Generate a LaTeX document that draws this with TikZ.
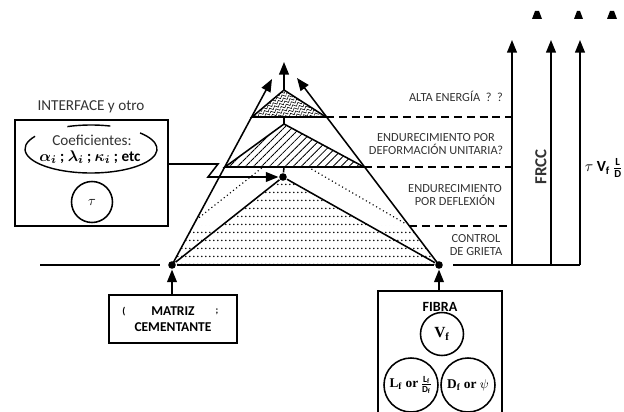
\documentclass[tikz,border=0pt]{standalone}
\usepackage{fontspec}
\setmainfont{Carlito}
\newfontfamily\serifbf{Liberation Serif}
\usepackage{tikz}
\usetikzlibrary{arrows.meta,patterns.meta}
\definecolor{RKText}{HTML}{333333}

\tikzdeclarepattern{name=dotrows,type=uncolored,
  bounding box={(0,0) and (3pt,5.7pt)},tile size={(3pt,5.7pt)},
  code={\fill (1.5pt,2.85pt) circle (0.7pt);}}
\tikzdeclarepattern{name=hatchne,type=uncolored,
  bounding box={(0,-0.5pt) and (4pt,0.5pt)},tile size={(4pt,4pt)},
  tile transformation={rotate=45},
  code={\draw[line width=0.6pt] (0,0) -- (4pt,0);}}
\tikzdeclarepattern{name=wavy,type=uncolored,
  bounding box={(0,-0.5pt) and (4pt,2.5pt)},tile size={(4pt,2.4pt)},
  tile transformation={rotate=25},
  code={\draw[line width=0.4pt] (0,1pt) -- (1pt,2pt) -- (3pt,0pt) -- (4pt,1pt);}}

\begin{document}
\begin{tikzpicture}[x=0.025cm,y=-0.025cm,line width=1.1pt,
  tip/.style={-{Triangle[length=9pt,width=7pt]}},
  dot/.style={circle,fill,inner sep=0pt,minimum size=0.19cm},
  box/.style={draw,rectangle,inner sep=0pt},
  ring/.style={circle,draw,inner sep=0pt},
  dashline/.style={dash pattern=on 5.7pt off 3.4pt},
  lbl/.style={align=center,text=RKText,font=\fontsize{8.8}{9.8}\selectfont}]
\path[use as bounding box] (0,0) rectangle (624,412);

% filled regions of the triangle
\fill[pattern=dotrows] (172,265) -- (193,226) -- (221,226) -- (283,177) -- (370,226) -- (409,226) -- (439,265) -- cycle;
\draw[pattern=hatchne] (225,167) -- (284,124) -- (364,167) -- cycle;
\draw[pattern=wavy] (252,117) -- (284,90) -- (326,117) -- cycle;
\draw[dotted,line width=0.8pt] (196,220) -- (263,167);
\draw[dotted,line width=0.8pt] (308,167) -- (406,224);

\node[dot] (mdot) at (172,265) {};
\node[dot] (fdot) at (439,265) {};
\node[dot] (idot) at (283,177) {};
\coordinate (ltip) at (272,79);
\coordinate (rtip) at (297,78);
\coordinate (capex) at (284,90);
\coordinate (ctip) at (284,62);

\draw[tip] (mdot.center) -- (ltip);
\draw[tip] (fdot.center) -- (rtip);
\draw[tip] (capex) -- (ctip);
\draw (mdot) -- (idot) -- (fdot);
\draw (idot) -- (284,167);
\draw (284,124) -- (284,117);

% base line and the three rising arrows
\draw (40,265) -- (160,265);
\draw (mdot) -- (fdot);
\draw (453,265) -- (580,265);
\foreach \x in {512,551,580}
  \draw[tip] (\x,265) -- (\x,40);
\fill (532,19) -- (535,11) -- (539,11) -- (542,19) -- cycle;
\fill (574,19) -- (577,11) -- (580,11) -- (583,19) -- cycle;
\fill (607,19) -- (610,11) -- (614,11) -- (617,19) -- cycle;

\draw[dashline] (326,117) -- (512,117);
\draw[dashline] (364,167) -- (512,167);
\draw[dashline] (409,226) -- (512,226);

\node[lbl] (alta) at (456,96) {ALTA ENERGÍA \ ? \ ?};
\node[lbl] (endef) at (436,144) {ENDURECIMIENTO POR\\DEFORMACIÓN UNITARIA?};
\node[lbl] (endfl) at (455,195) {ENDURECIMIENTO\\POR DEFLEXIÓN};
\node[lbl] (ctrl) at (476,245) {CONTROL\\DE GRIETA};
\node[rotate=90,text=RKText,font=\bfseries\fontsize{12}{14}\selectfont] (frcc) at (541,167) {FRCC};
\node[anchor=west,inner sep=0pt,font=\fontsize{11}{13}\selectfont] (tvl) at (584,168) {$\tau\ \mathbf{V_f}\,\frac{\mathbf{L}}{\mathbf{D}}$};

% interface
\node[text=RKText,font=\fontsize{10.8}{12}\selectfont] (ititle) at (91,107) {INTERFACE y otro};
\node[box,minimum width=3.825cm,minimum height=2.65cm] (ibox) at (91.5,173) {};
\draw[line width=1pt] (91,149) ++(-148:66 and 24) arc[start angle=-148,end angle=-402,x radius=66,y radius=24];
\draw[line width=1pt] (91,149) ++(-73:66 and 24) arc[start angle=-73,end angle=-111,x radius=66,y radius=24];
\node[text=RKText,font=\fontsize{10.8}{12}\selectfont] (coef) at (92,140) {Coeficientes:};
\node[font=\bfseries\boldmath\fontsize{10.8}{12}\selectfont] (greek) at (90,157) {$\alpha_i$ ; $\lambda_i$ ; $\kappa_i$ ; etc};
\node[ring,minimum size=1.025cm] (tau) at (92,202) {$\tau$};
\draw[tip] (ibox.east |- 0,164) -- (218,164) -- (208,177) -- (idot);

% matrix
\node[box,align=center,minimum width=3.2cm,minimum height=1.2cm,font=\bfseries\fontsize{9.6}{11.4}\selectfont] (mbox) at (173,319) {MATRIZ\\CEMENTANTE};
\node[font=\bfseries\fontsize{7}{8}\selectfont] (mpar) at (124,312) {(};
\node[font=\bfseries\fontsize{7}{8}\selectfont] (msemi) at (217,312) {;};
\draw[tip] (mbox.north -| mdot) -- (mdot);

% fibre
\node[box,minimum width=3.1cm,minimum height=3.05cm] (fbox) at (440,352) {};
\node[font=\bfseries\fontsize{10}{12}\selectfont] (ftitle) at (440,307) {FIBRA};
\node[ring,minimum size=1.075cm,font=\serifbf\bfseries\fontsize{11}{13}\selectfont] (vf) at (442,334) {V\textsubscript{f}};
\node[ring,minimum size=1.35cm] (lf) at (411,385) {};
\node[ring,minimum size=1.35cm] (df) at (468,385) {};
\node[inner sep=0pt,font=\serifbf\bfseries\fontsize{9.5}{11}\selectfont] (lftext) at (lf) {L\textsubscript{f} or\,\raisebox{-0.5pt}{$\frac{\mathbf{L_f}}{\mathbf{D_f}}$}};
\node[inner sep=0pt,font=\serifbf\bfseries\fontsize{9.5}{11}\selectfont] (dftext) at (df) {D\textsubscript{f} or $\psi$};
\draw[tip] (fbox.north -| fdot) -- (fdot);
\end{tikzpicture}
\end{document}
